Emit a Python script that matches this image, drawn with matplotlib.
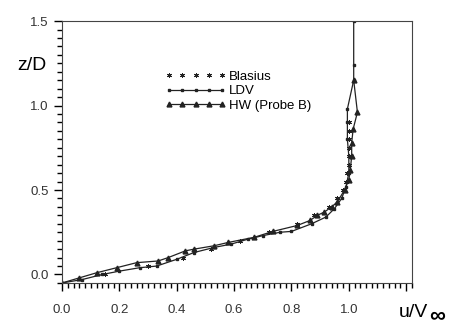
import numpy as np
import matplotlib.pyplot as plt
from matplotlib.ticker import MultipleLocator

# profiles
ldv_u = [0.0, 0.07, 0.14, 0.2, 0.27, 0.33, 0.40, 0.46, 0.53, 0.59, 0.65, 0.70, 0.76, 0.80,
         0.87, 0.92, 0.95, 0.975, 0.99, 1.0, 1.0, 0.995, 0.995, 0.995, 1.017, 1.017, 1.017]
ldv_z = [-0.05, -0.03, 0.0, 0.02, 0.04, 0.05, 0.09, 0.13, 0.16, 0.18, 0.21, 0.23, 0.25, 0.255,
         0.30, 0.34, 0.39, 0.45, 0.52, 0.60, 0.70, 0.80, 0.90, 0.98, 1.15, 1.24, 1.5]

hw_u = [0.0, 0.06, 0.12, 0.19, 0.26, 0.335, 0.37, 0.43, 0.46, 0.53, 0.58, 0.67, 0.735, 0.82,
        0.865, 0.89, 0.915, 0.94, 0.96, 0.985, 1.0, 1.005, 1.01, 1.01, 1.015, 1.03, 1.017]
hw_z = [-0.05, -0.02, 0.01, 0.04, 0.07, 0.08, 0.10, 0.14, 0.15, 0.17, 0.19, 0.22, 0.255, 0.29,
        0.32, 0.35, 0.37, 0.40, 0.43, 0.50, 0.56, 0.62, 0.70, 0.78, 0.86, 0.96, 1.15]

bl_u = [0.15, 0.3, 0.42, 0.52, 0.62, 0.72, 0.82, 0.88, 0.93, 0.96, 0.98, 0.99, 0.995,
        1.0, 1.0, 1.0, 1.0, 1.0, 1.0]
bl_z = [0.0, 0.05, 0.1, 0.15, 0.2, 0.25, 0.3, 0.35, 0.4, 0.45, 0.5, 0.55, 0.6,
        0.65, 0.7, 0.75, 0.8, 0.85, 0.9]

plt.rcParams['font.family'] = ['Liberation Sans', 'DejaVu Sans']

fig = plt.figure(figsize=(4.74, 3.29), dpi=100)
ax = fig.add_axes([0.131, 0.140, 0.738, 0.796])

ax.plot(bl_u, bl_z, ls='none', marker=(6, 2, 0), ms=3.5, mew=0.7, color='#222222', label='Blasius')
ax.plot(ldv_u, ldv_z, '-', marker='s', ms=2, lw=0.9, color='#222222', label='LDV')
ax.plot(hw_u, hw_z, '-', marker='^', ms=3.5, lw=0.9, color='#222222', label='HW (Probe B)')

ax.set_xlim(0, 1.22)
ax.set_ylim(-0.05, 1.5)
ax.xaxis.set_major_locator(MultipleLocator(0.2))
ax.xaxis.set_minor_locator(MultipleLocator(0.02))
ax.yaxis.set_major_locator(MultipleLocator(0.5))
ax.yaxis.set_minor_locator(MultipleLocator(0.05))
ax.tick_params(which='major', length=6, width=1, labelsize=9.5, labelcolor='#333333')
ax.tick_params(which='minor', length=3.5, width=1)
ax.tick_params(axis='x', pad=9)
ax.xaxis.set_major_formatter(plt.FuncFormatter(lambda v, p: f'{v:.1f}' if v < 1.1 else ''))
ax.yaxis.set_major_formatter(plt.FuncFormatter(lambda v, p: f'{v:.1f}'))
for s in ax.spines.values():
    s.set_color('#444444')

fig.text(0.068, 0.80, 'z/D', fontsize=14, ha='center', va='center')
fig.text(0.872, 0.050, 'u/V', fontsize=14, ha='center', va='center')
fig.text(0.922, 0.040, '∞', fontsize=16, fontweight='bold', ha='center', va='center')

ax.legend(loc='upper left', bbox_to_anchor=(0.28, 0.83), frameon=False, fontsize=9.5,
          handlelength=4.6, handletextpad=0.25, labelspacing=0.15, borderaxespad=0,
          numpoints=5)

fig.savefig('out.png', dpi=100)
